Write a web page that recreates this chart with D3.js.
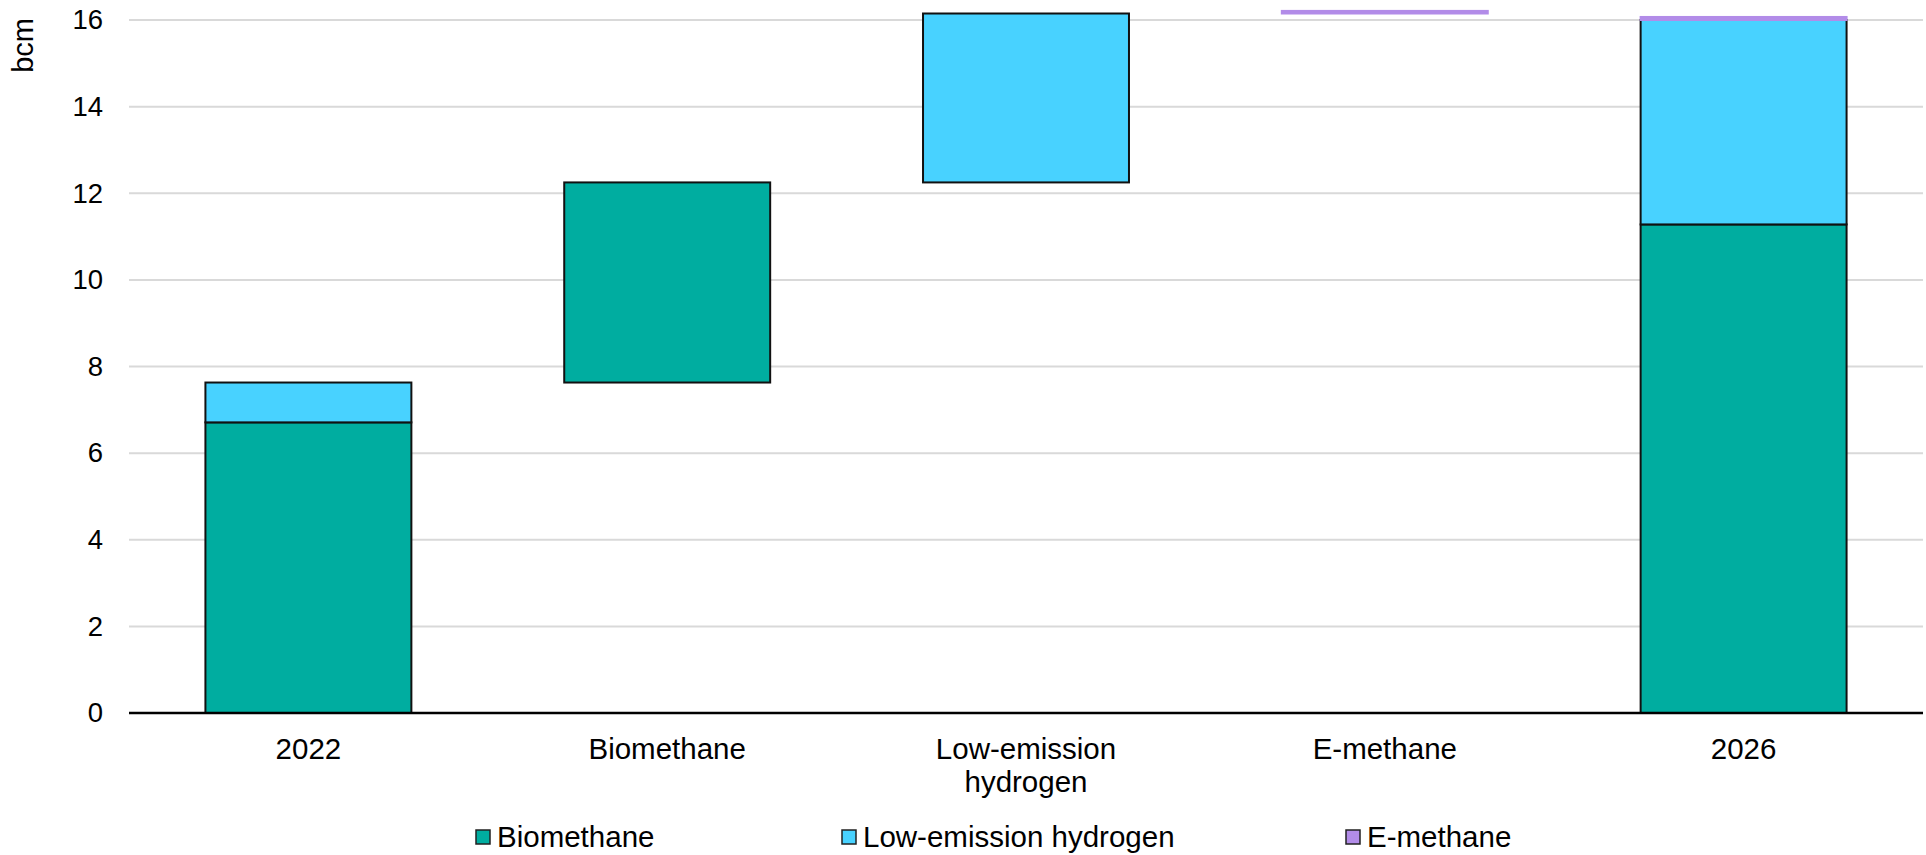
<!DOCTYPE html>
<html>
<head>
<meta charset="utf-8">
<script src="https://cdn.jsdelivr.net/npm/d3@7"></script>
<style>
  html, body { margin: 0; padding: 0; background: #fff; }
  svg { display: block; }
</style>
</head>
<body>
<svg id="chart" width="1926" height="855"></svg>
<script>
(function() {

  // categories and series values (bcm)
  const categories = ["2022", "Biomethane", "Low-emission hydrogen", "E-methane", "2026"];
  const categoryLines = [["2022"], ["Biomethane"], ["Low-emission", "hydrogen"], ["E-methane"], ["2026"]];
  const barKind = ["total", "step", "step", "step", "total"];
  const biomethane = [6.71, 4.62, 0, 0, 11.28];
  const hydrogen = [0.92, 0, 3.90, 0, 4.72];
  const emethane = [0, 0, 0, 0.06, 0.07];
  const yTicks = [0, 2, 4, 6, 8, 10, 12, 14, 16];

  const seriesNames = ["Biomethane", "Low-emission hydrogen", "E-methane"];
  const seriesValues = [biomethane, hydrogen, emethane];
  const colors = ["#00ada0", "#48d2ff", "#b28ce8"];

  const FONT = "Liberation Sans, Arial, sans-serif";
  const margin = { left: 129, right: 3, top: 20, bottom: 142 };
  const W = 1926, H = 855;

  const svg = d3.select("#chart");

  const x = d3.scaleBand()
    .domain(categories)
    .range([margin.left, W - margin.right])
    .paddingInner(0.426)
    .paddingOuter(0.213);

  const y = d3.scaleLinear()
    .domain([0, 16])
    .range([H - margin.bottom, margin.top]);

  // gridlines
  svg.append("g")
    .selectAll("line")
    .data(yTicks.filter(t => t > 0))
    .join("line")
    .attr("x1", margin.left).attr("x2", W - margin.right)
    .attr("y1", d => y(d)).attr("y2", d => y(d))
    .attr("stroke", "#d9d9d9")
    .attr("stroke-width", 2);

  // y axis labels
  const yAxis = svg.append("g")
    .attr("transform", `translate(${margin.left},0)`)
    .call(d3.axisLeft(y).tickValues(yTicks).tickSize(0).tickPadding(26));
  yAxis.select(".domain").remove();
  yAxis.selectAll("text")
    .attr("font-family", FONT)
    .attr("font-size", 27.5)
    .attr("fill", "#000");

  svg.append("text")
    .attr("transform", "translate(33,18) rotate(-90)")
    .attr("text-anchor", "end")
    .attr("font-family", FONT)
    .attr("font-size", 29)
    .attr("fill", "#000")
    .text("bcm");

  // stacked segments, with running base for the waterfall steps
  const segments = [];
  let running = 0;
  categories.forEach((cat, i) => {
    let base = barKind[i] === "total" ? 0 : running;
    seriesValues.forEach((vals, s) => {
      const v = vals[i];
      if (v > 0) {
        segments.push({ cat, s, y0: base, y1: base + v });
        base += v;
      }
    });
    running = base;
  });

  svg.append("g")
    .selectAll("rect")
    .data(segments)
    .join("rect")
    .attr("x", d => x(d.cat))
    .attr("width", x.bandwidth())
    .attr("y", d => y(d.y1))
    .attr("height", d => y(d.y0) - y(d.y1))
    .attr("fill", d => colors[d.s])
    .attr("stroke", d => d.s === 2 ? colors[2] : "#111")
    .attr("stroke-width", 2);

  // baseline
  svg.append("line")
    .attr("x1", margin.left).attr("x2", W - margin.right)
    .attr("y1", y(0)).attr("y2", y(0))
    .attr("stroke", "#000")
    .attr("stroke-width", 2.5);

  // x labels
  const xl = svg.append("g");
  categories.forEach((cat, i) => {
    const t = xl.append("text")
      .attr("x", x(cat) + x.bandwidth() / 2)
      .attr("y", 759)
      .attr("text-anchor", "middle")
      .attr("font-family", FONT)
      .attr("font-size", 29.5)
      .attr("fill", "#000");
    categoryLines[i].forEach((line, k) => {
      t.append("tspan")
        .attr("x", x(cat) + x.bandwidth() / 2)
        .attr("dy", k === 0 ? 0 : 33)
        .text(line);
    });
  });

  // legend
  const legendX = [476, 842, 1346];
  const legend = svg.append("g");
  seriesNames.forEach((name, i) => {
    legend.append("rect")
      .attr("x", legendX[i]).attr("y", 830)
      .attr("width", 14).attr("height", 14)
      .attr("fill", colors[i])
      .attr("stroke", "#222")
      .attr("stroke-width", 1.5);
    legend.append("text")
      .attr("x", legendX[i] + 21)
      .attr("y", 847)
      .attr("font-family", FONT)
      .attr("font-size", 29.5)
      .attr("fill", "#000")
      .text(name);
  });

})();
</script>
</body>
</html>
